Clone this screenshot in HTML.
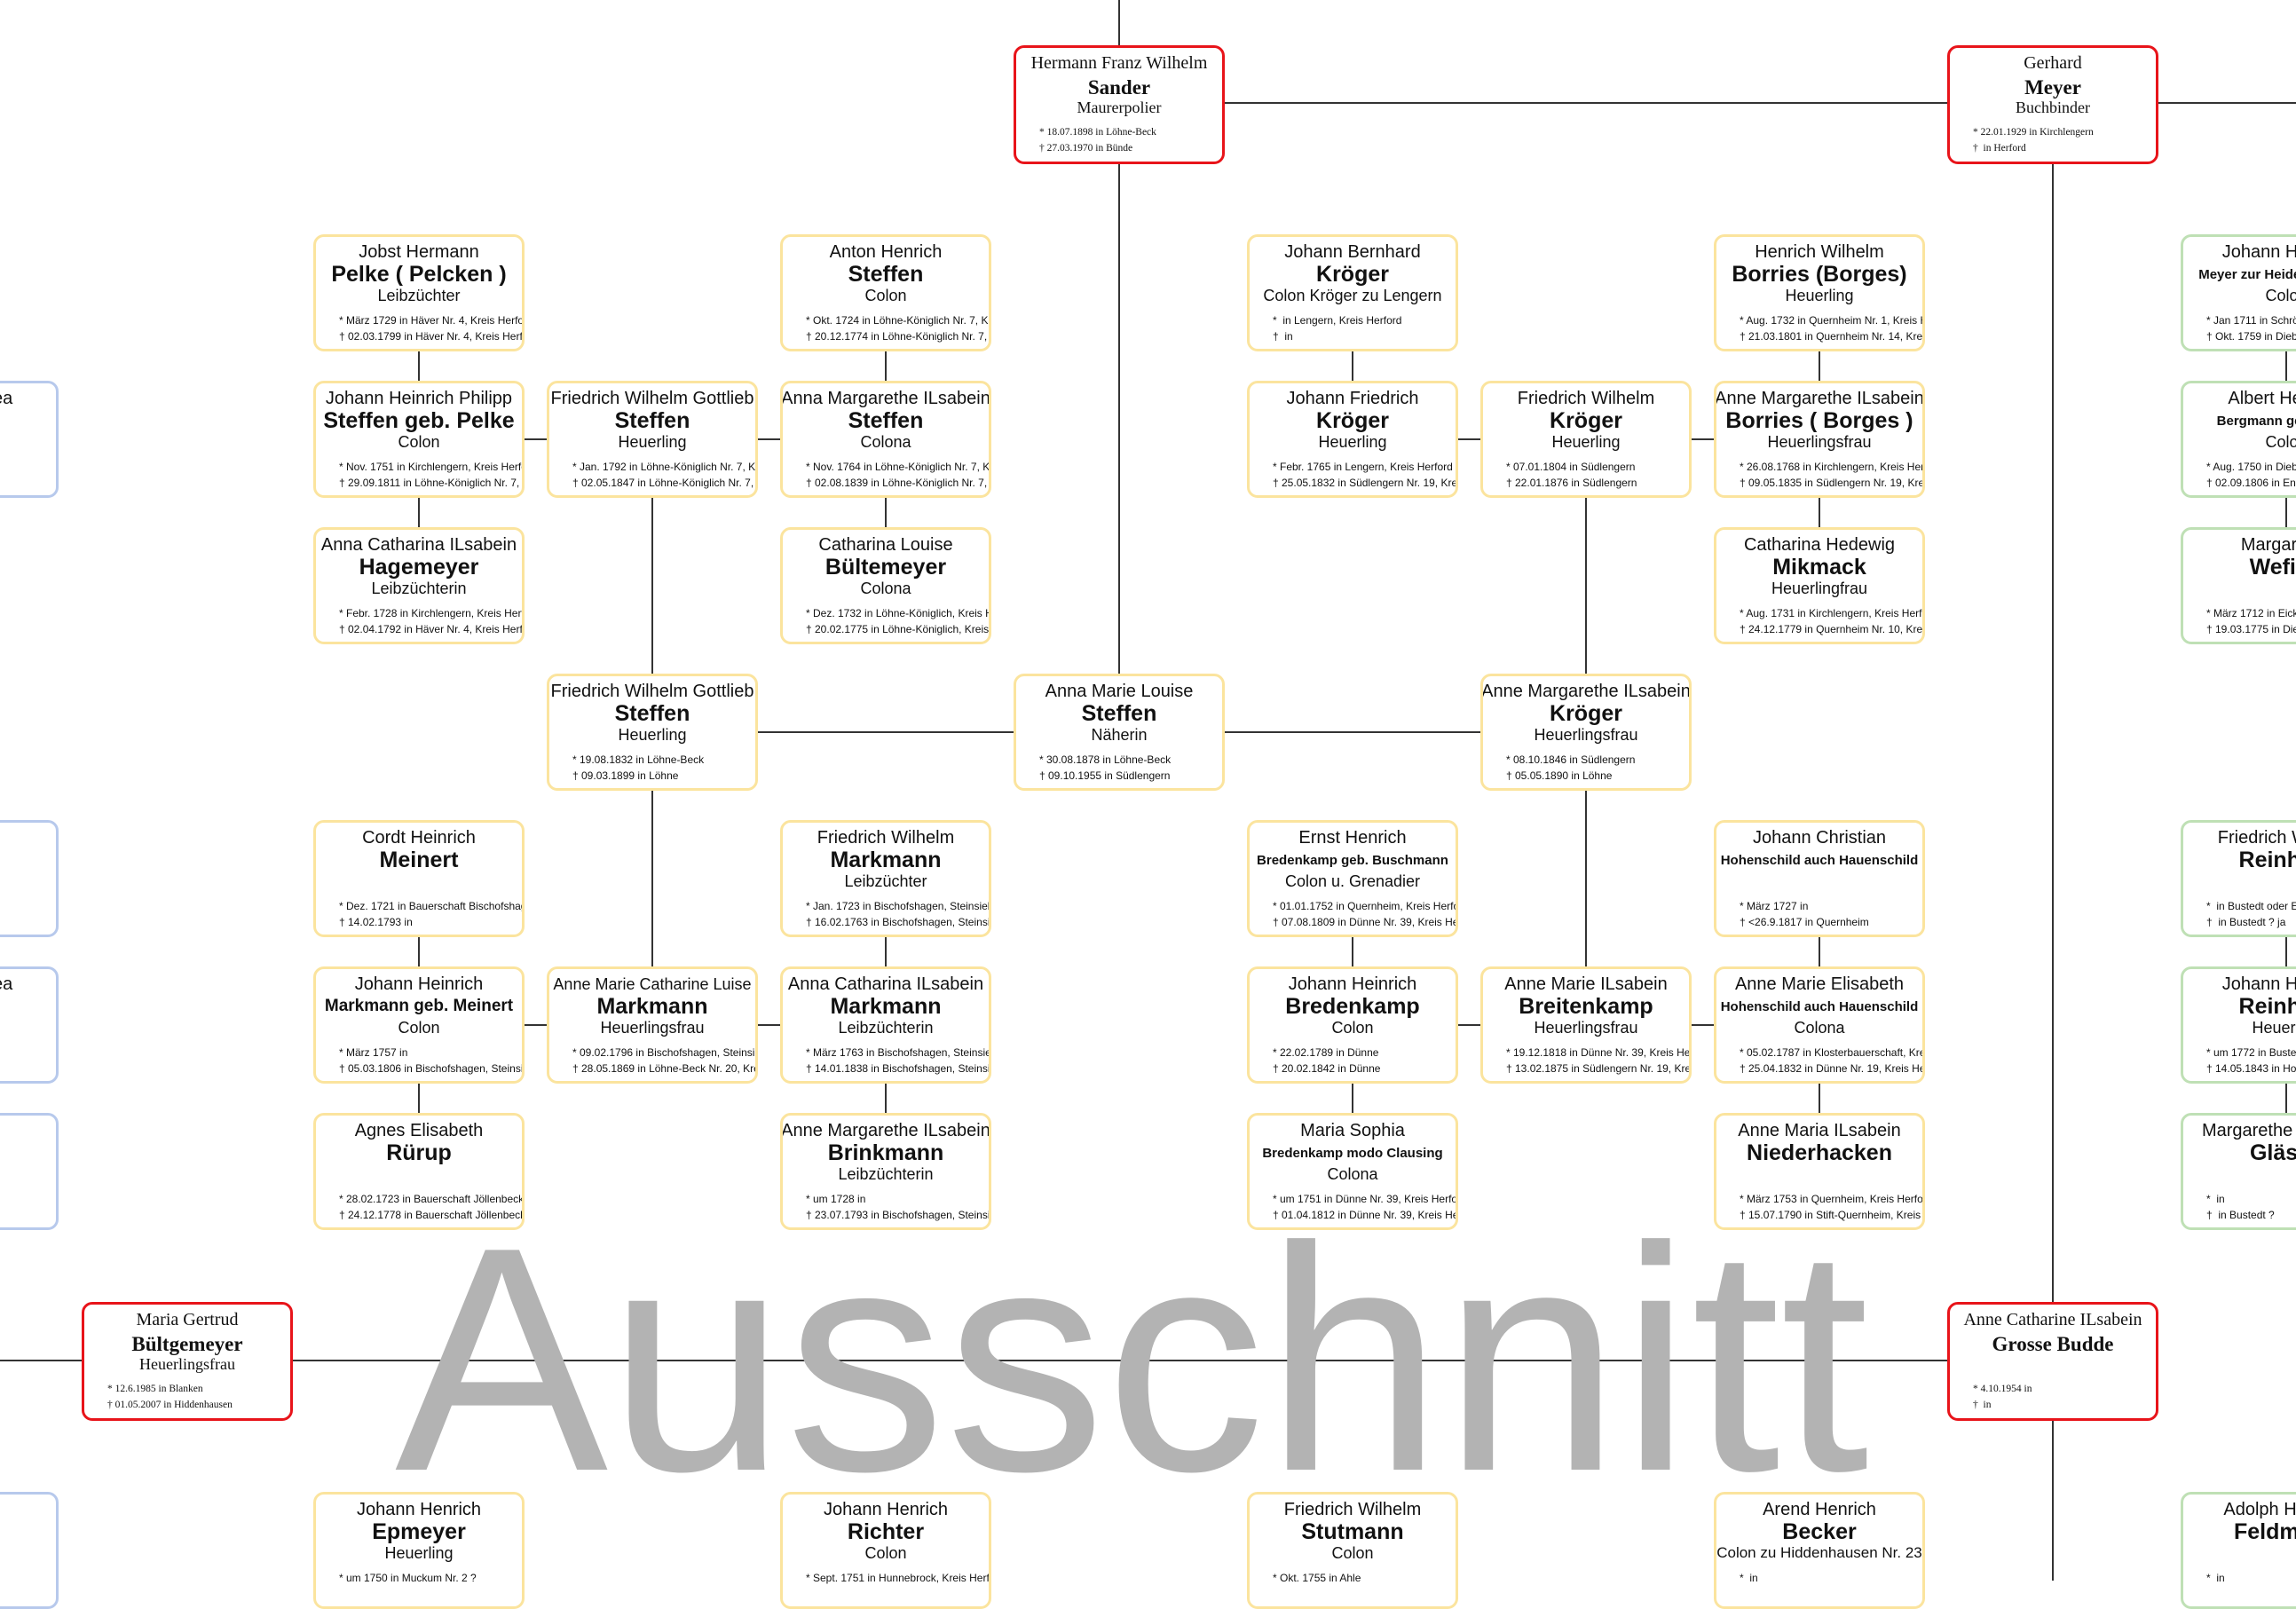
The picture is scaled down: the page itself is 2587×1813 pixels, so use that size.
<!DOCTYPE html>
<html><head><meta charset="utf-8">
<style>
html,body{margin:0;padding:0;background:#fff}
body{width:2587px;height:1781px;position:relative;overflow:hidden;font-family:"Liberation Sans",sans-serif;color:#111}
.l{position:absolute;background:#333}
.b{position:absolute;width:238px;height:132px;box-sizing:border-box;border:3px solid #fbe49e;border-radius:12px;background:#fff;overflow:hidden}
.gr{border-color:#bfe0b5}
.bl{border-color:#b7c9ec}
.r{border-color:#e8141a;height:134px;font-family:"Liberation Serif",serif}
.b div{position:absolute;white-space:nowrap;line-height:1}
.g,.s,.o{left:-80px;right:-80px;text-align:center}
.g{top:7px;font-size:20px}
.s{top:30px;font-size:25px;font-weight:bold}
.s.sm{top:35px;font-size:15px}
.s.md{top:32px;font-size:19px}
.o{top:57px;font-size:18px}
.d{left:26px;font-size:12px}
.d1{top:88px}.d2{top:106px}
.r .g{top:7px;font-size:20px}
.r .s{top:33px;font-size:23px}
.r .o{top:58px;font-size:18px}
.r .d{font-size:11.5px;left:26px}
.r .d1{top:90px}.r .d2{top:108px}
.big{position:absolute;left:445px;top:1352px;font-size:360px;line-height:1;color:#b3b3b3;font-family:"Liberation Sans",sans-serif;white-space:nowrap}
</style></head><body>

<div class="l" style="left:1260px;top:0;width:2px;height:51px"></div>
<div class="l" style="left:1260px;top:185px;width:2px;height:574px"></div>
<div class="l" style="left:1379px;top:115px;width:815px;height:2px"></div>
<div class="l" style="left:2432px;top:115px;width:155px;height:2px"></div>
<div class="l" style="left:2312px;top:185px;width:2px;height:1282px"></div>
<div class="l" style="left:2312px;top:1601px;width:2px;height:180px"></div>
<div class="l" style="left:0;top:1532px;width:92px;height:2px"></div>
<div class="l" style="left:330px;top:1532px;width:1864px;height:2px"></div>

<div class="l" style="left:471px;top:396px;width:2px;height:33px"></div>
<div class="l" style="left:471px;top:561px;width:2px;height:33px"></div>
<div class="l" style="left:997px;top:396px;width:2px;height:33px"></div>
<div class="l" style="left:997px;top:561px;width:2px;height:33px"></div>
<div class="l" style="left:1523px;top:396px;width:2px;height:33px"></div>
<div class="l" style="left:2049px;top:396px;width:2px;height:33px"></div>
<div class="l" style="left:2049px;top:561px;width:2px;height:33px"></div>
<div class="l" style="left:2575px;top:396px;width:2px;height:33px"></div>
<div class="l" style="left:2575px;top:561px;width:2px;height:33px"></div>

<div class="l" style="left:471px;top:1056px;width:2px;height:33px"></div>
<div class="l" style="left:471px;top:1221px;width:2px;height:33px"></div>
<div class="l" style="left:997px;top:1056px;width:2px;height:33px"></div>
<div class="l" style="left:997px;top:1221px;width:2px;height:33px"></div>
<div class="l" style="left:1523px;top:1056px;width:2px;height:33px"></div>
<div class="l" style="left:1523px;top:1221px;width:2px;height:33px"></div>
<div class="l" style="left:2049px;top:1056px;width:2px;height:33px"></div>
<div class="l" style="left:2049px;top:1221px;width:2px;height:33px"></div>
<div class="l" style="left:2575px;top:1056px;width:2px;height:33px"></div>
<div class="l" style="left:2575px;top:1221px;width:2px;height:33px"></div>

<div class="l" style="left:591px;top:494px;width:25px;height:2px"></div>
<div class="l" style="left:854px;top:494px;width:25px;height:2px"></div>
<div class="l" style="left:1643px;top:494px;width:25px;height:2px"></div>
<div class="l" style="left:1906px;top:494px;width:25px;height:2px"></div>
<div class="l" style="left:591px;top:1154px;width:25px;height:2px"></div>
<div class="l" style="left:854px;top:1154px;width:25px;height:2px"></div>
<div class="l" style="left:1643px;top:1154px;width:25px;height:2px"></div>
<div class="l" style="left:1906px;top:1154px;width:25px;height:2px"></div>

<div class="l" style="left:734px;top:561px;width:2px;height:198px"></div>
<div class="l" style="left:734px;top:891px;width:2px;height:198px"></div>
<div class="l" style="left:1786px;top:561px;width:2px;height:198px"></div>
<div class="l" style="left:1786px;top:891px;width:2px;height:198px"></div>
<div class="l" style="left:854px;top:824px;width:288px;height:2px"></div>
<div class="l" style="left:1380px;top:824px;width:288px;height:2px"></div>

<div class="b r" style="left:1142px;top:51px"><div class="g">Hermann Franz Wilhelm</div><div class="s">Sander</div><div class="o">Maurerpolier</div><div class="d d1">* 18.07.1898 in Löhne-Beck</div><div class="d d2">† 27.03.1970 in Bünde</div></div>
<div class="b r" style="left:2194px;top:51px"><div class="g">Gerhard</div><div class="s">Meyer</div><div class="o">Buchbinder</div><div class="d d1">* 22.01.1929 in Kirchlengern</div><div class="d d2">†&nbsp; in Herford</div></div>
<div class="b r" style="left:92px;top:1467px"><div class="g">Maria Gertrud</div><div class="s">Bültgemeyer</div><div class="o">Heuerlingsfrau</div><div class="d d1">* 12.6.1985 in Blanken</div><div class="d d2">† 01.05.2007 in Hiddenhausen</div></div>
<div class="b r" style="left:2194px;top:1467px"><div class="g">Anne Catharine ILsabein</div><div class="s">Grosse Budde</div><div class="d d1">* 4.10.1954 in</div><div class="d d2">†&nbsp; in</div></div>

<div class="b" style="left:353px;top:264px"><div class="g">Jobst Hermann</div><div class="s">Pelke ( Pelcken )</div><div class="o">Leibzüchter</div><div class="d d1">* März 1729 in Häver Nr. 4, Kreis Herford</div><div class="d d2">† 02.03.1799 in Häver Nr. 4, Kreis Herford</div></div>
<div class="b" style="left:879px;top:264px"><div class="g">Anton Henrich</div><div class="s">Steffen</div><div class="o">Colon</div><div class="d d1">* Okt. 1724 in Löhne-Königlich Nr. 7, Kreis</div><div class="d d2">† 20.12.1774 in Löhne-Königlich Nr. 7, Kreis</div></div>
<div class="b" style="left:1405px;top:264px"><div class="g">Johann Bernhard</div><div class="s">Kröger</div><div class="o">Colon Kröger zu Lengern</div><div class="d d1">*&nbsp; in Lengern, Kreis Herford</div><div class="d d2">†&nbsp; in</div></div>
<div class="b" style="left:1931px;top:264px"><div class="g">Henrich Wilhelm</div><div class="s">Borries (Borges)</div><div class="o">Heuerling</div><div class="d d1">* Aug. 1732 in Quernheim Nr. 1, Kreis Herford</div><div class="d d2">† 21.03.1801 in Quernheim Nr. 14, Kreis</div></div>
<div class="b gr" style="left:2457px;top:264px"><div class="g">Johann Heinrich</div><div class="s sm">Meyer zur Heide geb. Meyer</div><div class="o">Colon</div><div class="d d1">* Jan 1711 in Schröttinghausen</div><div class="d d2">† Okt. 1759 in Diebrock</div></div>

<div class="b bl" style="left:-172px;top:429px"><div class="g">Anna Dorothea</div><div class="d d2">† in Kreis Meseritz</div></div>
<div class="b" style="left:353px;top:429px"><div class="g">Johann Heinrich Philipp</div><div class="s">Steffen geb. Pelke</div><div class="o">Colon</div><div class="d d1">* Nov. 1751 in Kirchlengern, Kreis Herford</div><div class="d d2">† 29.09.1811 in Löhne-Königlich Nr. 7, Kreis</div></div>
<div class="b" style="left:616px;top:429px"><div class="g">Friedrich Wilhelm Gottlieb</div><div class="s">Steffen</div><div class="o">Heuerling</div><div class="d d1">* Jan. 1792 in Löhne-Königlich Nr. 7, Kreis</div><div class="d d2">† 02.05.1847 in Löhne-Königlich Nr. 7, Kreis</div></div>
<div class="b" style="left:879px;top:429px"><div class="g">Anna Margarethe ILsabein</div><div class="s">Steffen</div><div class="o">Colona</div><div class="d d1">* Nov. 1764 in Löhne-Königlich Nr. 7, Kreis</div><div class="d d2">† 02.08.1839 in Löhne-Königlich Nr. 7, Kreis</div></div>
<div class="b" style="left:1405px;top:429px"><div class="g">Johann Friedrich</div><div class="s">Kröger</div><div class="o">Heuerling</div><div class="d d1">* Febr. 1765 in Lengern, Kreis Herford</div><div class="d d2">† 25.05.1832 in Südlengern Nr. 19, Kreis</div></div>
<div class="b" style="left:1668px;top:429px"><div class="g">Friedrich Wilhelm</div><div class="s">Kröger</div><div class="o">Heuerling</div><div class="d d1">* 07.01.1804 in Südlengern</div><div class="d d2">† 22.01.1876 in Südlengern</div></div>
<div class="b" style="left:1931px;top:429px"><div class="g">Anne Margarethe ILsabein</div><div class="s">Borries ( Borges )</div><div class="o">Heuerlingsfrau</div><div class="d d1">* 26.08.1768 in Kirchlengern, Kreis Herford</div><div class="d d2">† 09.05.1835 in Südlengern Nr. 19, Kreis</div></div>
<div class="b gr" style="left:2457px;top:429px"><div class="g">Albert Heinrich</div><div class="s sm">Bergmann geb. Meyer</div><div class="o">Colon</div><div class="d d1">* Aug. 1750 in Diebrock</div><div class="d d2">† 02.09.1806 in Enniger</div></div>

<div class="b" style="left:353px;top:594px"><div class="g">Anna Catharina ILsabein</div><div class="s">Hagemeyer</div><div class="o">Leibzüchterin</div><div class="d d1">* Febr. 1728 in Kirchlengern, Kreis Herford</div><div class="d d2">† 02.04.1792 in Häver Nr. 4, Kreis Herford</div></div>
<div class="b" style="left:879px;top:594px"><div class="g">Catharina Louise</div><div class="s">Bültemeyer</div><div class="o">Colona</div><div class="d d1">* Dez. 1732 in Löhne-Königlich, Kreis Herford</div><div class="d d2">† 20.02.1775 in Löhne-Königlich, Kreis Herford</div></div>
<div class="b" style="left:1931px;top:594px"><div class="g">Catharina Hedewig</div><div class="s">Mikmack</div><div class="o">Heuerlingfrau</div><div class="d d1">* Aug. 1731 in Kirchlengern, Kreis Herford</div><div class="d d2">† 24.12.1779 in Quernheim Nr. 10, Kreis</div></div>
<div class="b gr" style="left:2457px;top:594px"><div class="g">Margarethe</div><div class="s">Wefing</div><div class="d d1">* März 1712 in Eickum</div><div class="d d2">† 19.03.1775 in Diebrock</div></div>

<div class="b" style="left:616px;top:759px"><div class="g">Friedrich Wilhelm Gottlieb</div><div class="s">Steffen</div><div class="o">Heuerling</div><div class="d d1">* 19.08.1832 in Löhne-Beck</div><div class="d d2">† 09.03.1899 in Löhne</div></div>
<div class="b" style="left:1142px;top:759px"><div class="g">Anna Marie Louise</div><div class="s">Steffen</div><div class="o">Näherin</div><div class="d d1">* 30.08.1878 in Löhne-Beck</div><div class="d d2">† 09.10.1955 in Südlengern</div></div>
<div class="b" style="left:1668px;top:759px"><div class="g">Anne Margarethe ILsabein</div><div class="s">Kröger</div><div class="o">Heuerlingsfrau</div><div class="d d1">* 08.10.1846 in Südlengern</div><div class="d d2">† 05.05.1890 in Löhne</div></div>

<div class="b bl" style="left:-172px;top:924px"><div class="d d2">† in Meseritz, Posen</div></div>
<div class="b" style="left:353px;top:924px"><div class="g">Cordt Heinrich</div><div class="s">Meinert</div><div class="d d1">* Dez. 1721 in Bauerschaft Bischofshagen</div><div class="d d2">† 14.02.1793 in</div></div>
<div class="b" style="left:879px;top:924px"><div class="g">Friedrich Wilhelm</div><div class="s">Markmann</div><div class="o">Leibzüchter</div><div class="d d1">* Jan. 1723 in Bischofshagen, Steinsiek</div><div class="d d2">† 16.02.1763 in Bischofshagen, Steinsiek</div></div>
<div class="b" style="left:1405px;top:924px"><div class="g">Ernst Henrich</div><div class="s sm">Bredenkamp geb. Buschmann</div><div class="o">Colon u. Grenadier</div><div class="d d1">* 01.01.1752 in Quernheim, Kreis Herford</div><div class="d d2">† 07.08.1809 in Dünne Nr. 39, Kreis Herford</div></div>
<div class="b" style="left:1931px;top:924px"><div class="g">Johann Christian</div><div class="s sm">Hohenschild auch Hauenschild</div><div class="d d1">* März 1727 in</div><div class="d d2">† &lt;26.9.1817 in Quernheim</div></div>
<div class="b gr" style="left:2457px;top:924px"><div class="g">Friedrich Wilhelm</div><div class="s">Reinhold</div><div class="d d1">*&nbsp; in Bustedt oder Eickum</div><div class="d d2">†&nbsp; in Bustedt ? ja</div></div>

<div class="b bl" style="left:-172px;top:1089px"><div class="g">Anna Dorothea</div><div class="d d2">† in Kreis Meseritz</div></div>
<div class="b" style="left:353px;top:1089px"><div class="g">Johann Heinrich</div><div class="s md">Markmann geb. Meinert</div><div class="o">Colon</div><div class="d d1">* März 1757 in</div><div class="d d2">† 05.03.1806 in Bischofshagen, Steinsiek</div></div>
<div class="b" style="left:616px;top:1089px"><div class="g" style="font-size:18px;top:8px">Anne Marie Catharine Luise</div><div class="s">Markmann</div><div class="o">Heuerlingsfrau</div><div class="d d1">* 09.02.1796 in Bischofshagen, Steinsiek</div><div class="d d2">† 28.05.1869 in Löhne-Beck Nr. 20, Kreis</div></div>
<div class="b" style="left:879px;top:1089px"><div class="g">Anna Catharina ILsabein</div><div class="s">Markmann</div><div class="o">Leibzüchterin</div><div class="d d1">* März 1763 in Bischofshagen, Steinsiek</div><div class="d d2">† 14.01.1838 in Bischofshagen, Steinsiek</div></div>
<div class="b" style="left:1405px;top:1089px"><div class="g">Johann Heinrich</div><div class="s">Bredenkamp</div><div class="o">Colon</div><div class="d d1">* 22.02.1789 in Dünne</div><div class="d d2">† 20.02.1842 in Dünne</div></div>
<div class="b" style="left:1668px;top:1089px"><div class="g">Anne Marie ILsabein</div><div class="s">Breitenkamp</div><div class="o">Heuerlingsfrau</div><div class="d d1">* 19.12.1818 in Dünne Nr. 39, Kreis Herford</div><div class="d d2">† 13.02.1875 in Südlengern Nr. 19, Kreis</div></div>
<div class="b" style="left:1931px;top:1089px"><div class="g">Anne Marie Elisabeth</div><div class="s sm">Hohenschild auch Hauenschild</div><div class="o">Colona</div><div class="d d1">* 05.02.1787 in Klosterbauerschaft, Kreis</div><div class="d d2">† 25.04.1832 in Dünne Nr. 19, Kreis Herford</div></div>
<div class="b gr" style="left:2457px;top:1089px"><div class="g">Johann Heinrich</div><div class="s">Reinhold</div><div class="o">Heuerling</div><div class="d d1">* um 1772 in Bustedt</div><div class="d d2">† 14.05.1843 in Holsen</div></div>

<div class="b bl" style="left:-172px;top:1254px"></div>
<div class="b" style="left:353px;top:1254px"><div class="g">Agnes Elisabeth</div><div class="s">Rürup</div><div class="d d1">* 28.02.1723 in Bauerschaft Jöllenbeck</div><div class="d d2">† 24.12.1778 in Bauerschaft Jöllenbeck</div></div>
<div class="b" style="left:879px;top:1254px"><div class="g">Anne Margarethe ILsabein</div><div class="s">Brinkmann</div><div class="o">Leibzüchterin</div><div class="d d1">* um 1728 in</div><div class="d d2">† 23.07.1793 in Bischofshagen, Steinsiek</div></div>
<div class="b" style="left:1405px;top:1254px"><div class="g">Maria Sophia</div><div class="s sm">Bredenkamp modo Clausing</div><div class="o">Colona</div><div class="d d1">* um 1751 in Dünne Nr. 39, Kreis Herford</div><div class="d d2">† 01.04.1812 in Dünne Nr. 39, Kreis Herford</div></div>
<div class="b" style="left:1931px;top:1254px"><div class="g">Anne Maria ILsabein</div><div class="s">Niederhacken</div><div class="d d1">* März 1753 in Quernheim, Kreis Herford</div><div class="d d2">† 15.07.1790 in Stift-Quernheim, Kreis Herford</div></div>
<div class="b gr" style="left:2457px;top:1254px"><div class="g">Margarethe Elisabeth</div><div class="s">Gläske</div><div class="d d1">*&nbsp; in</div><div class="d d2">†&nbsp; in Bustedt ?</div></div>

<div class="b bl" style="left:-172px;top:1681px"></div>
<div class="b" style="left:353px;top:1681px"><div class="g">Johann Henrich</div><div class="s">Epmeyer</div><div class="o">Heuerling</div><div class="d d1">* um 1750 in Muckum Nr. 2 ?</div></div>
<div class="b" style="left:879px;top:1681px"><div class="g">Johann Henrich</div><div class="s">Richter</div><div class="o">Colon</div><div class="d d1">* Sept. 1751 in Hunnebrock, Kreis Herford</div></div>
<div class="b" style="left:1405px;top:1681px"><div class="g">Friedrich Wilhelm</div><div class="s">Stutmann</div><div class="o">Colon</div><div class="d d1">* Okt. 1755 in Ahle</div></div>
<div class="b" style="left:1931px;top:1681px"><div class="g">Arend Henrich</div><div class="s">Becker</div><div class="o" style="font-size:17px">Colon zu Hiddenhausen Nr. 23</div><div class="d d1">*&nbsp; in</div></div>
<div class="b gr" style="left:2457px;top:1681px"><div class="g">Adolph Heinrich</div><div class="s">Feldmann</div><div class="d d1">*&nbsp; in</div></div>

<div class="big">Ausschnitt</div>
</body></html>
